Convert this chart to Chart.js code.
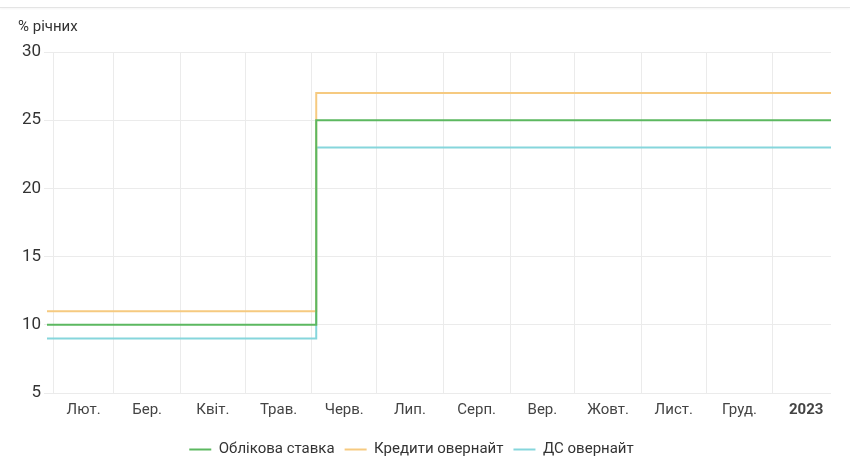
<!DOCTYPE html>
<html lang="uk">
<head>
<meta charset="utf-8">
<script src="https://cdn.jsdelivr.net/npm/chart.js@4/dist/chart.umd.min.js"></script>
<style>
    html, body { margin: 0; padding: 0; background: #fff; }
    #wrap { position: relative; width: 850px; height: 474px; }
    #topLine { position: absolute; left: 0; top: 7px; width: 850px; height: 1px; background: #e4e4e4; box-shadow: 0 1px 2px rgba(0,0,0,0.06); }
</style>
</head>
<body>
<div id="wrap">
    <div id="topLine"></div>
    <canvas id="ratesChart"></canvas>
</div>
<script>
// dates where the series change (first point, policy change, last point)
const changeDates = ['2022-01-29', '2022-06-03', '2023-01-28'];
const discountRate = [10, 25, 25];
const overnightLoans = [11, 27, 27];
const overnightDeposits = [9, 23, 23];

const monthStarts = ['2022-02-01', '2022-03-01', '2022-04-01', '2022-05-01', '2022-06-01', '2022-07-01',
    '2022-08-01', '2022-09-01', '2022-10-01', '2022-11-01', '2022-12-01', '2023-01-01', '2023-02-01'];
const monthLabels = ['Лют.', 'Бер.', 'Квіт.', 'Трав.', 'Черв.', 'Лип.', 'Серп.', 'Вер.', 'Жовт.', 'Лист.', 'Груд.', '2023'];

const yTicks = [5, 10, 15, 20, 25, 30];

function toDay(s) {
    return (Date.parse(s + 'T00:00:00Z') - Date.UTC(2022, 0, 1)) / 86400000;
}

const startDays = monthStarts.map(toDay);
const gridTicks = startDays.slice(0, monthLabels.length);
const labelTicks = monthLabels.map((_, i) => (startDays[i] + startDays[i + 1]) / 2);
const labelMap = {};
labelTicks.forEach((v, i) => { labelMap[v] = monthLabels[i]; });

function points(values) {
    return changeDates.map((d, i) => ({ x: toDay(d), y: values[i] }));
}

const font = 'Roboto, "Liberation Sans", sans-serif';

// legend sits a bit left of centre in the original
const legendShift = {
    id: 'legendShift',
    afterLayout(chart) {
        chart.legend.left -= 13;
        chart.legend.right -= 13;
    }
};

new Chart(document.getElementById('ratesChart'), {
    type: 'line',
    plugins: [legendShift],
    data: {
        datasets: [
            {
                label: 'Облікова ставка',
                data: points(discountRate),
                borderColor: '#5cb860',
                backgroundColor: '#5cb860'
            },
            {
                label: 'Кредити овернайт',
                data: points(overnightLoans),
                borderColor: '#f6ca80',
                backgroundColor: '#f6ca80'
            },
            {
                label: 'ДС овернайт',
                data: points(overnightDeposits),
                borderColor: '#86d6dc',
                backgroundColor: '#86d6dc'
            }
        ]
    },
    options: {
        responsive: true,
        maintainAspectRatio: false,
        animation: false,
        datasets: {
            line: {
                stepped: true,
                borderWidth: 2,
                pointRadius: 0,
                pointHoverRadius: 0,
                pointStyle: 'line',
                fill: false
            }
        },
        layout: {
            padding: { left: 18, right: 19, top: 18, bottom: 7 }
        },
        scales: {
            x: {
                type: 'linear',
                min: toDay(changeDates[0]),
                max: toDay(changeDates[changeDates.length - 1]),
                afterBuildTicks: function (scale) {
                    scale.ticks = gridTicks.concat(labelTicks).sort((a, b) => a - b).map(v => ({ value: v }));
                },
                afterFit: function (scale) {
                    scale.height = 39;
                },
                border: { display: false },
                grid: {
                    drawTicks: false,
                    color: function (ctx) {
                        return ctx.tick && labelMap[ctx.tick.value] === undefined ? '#ebebeb' : 'rgba(0,0,0,0)';
                    }
                },
                ticks: {
                    autoSkip: false,
                    maxRotation: 0,
                    padding: 8,
                    color: '#444',
                    font: function (ctx) {
                        const bold = ctx.tick && labelMap[ctx.tick.value] === '2023';
                        return { family: font, size: 15, weight: bold ? 'bold' : 'normal' };
                    },
                    callback: function (value) {
                        return labelMap[value] || '';
                    }
                }
            },
            y: {
                min: yTicks[0],
                max: yTicks[yTicks.length - 1],
                afterBuildTicks: function (scale) {
                    scale.ticks = yTicks.map(v => ({ value: v }));
                },
                afterFit: function (scale) {
                    scale.width = 29;
                },
                border: { display: false },
                grid: {
                    color: '#ebebeb',
                    tickLength: 3
                },
                ticks: {
                    padding: 3,
                    color: '#333',
                    font: { family: font, size: 17 }
                }
            }
        },
        plugins: {
            title: {
                display: true,
                text: '% річних',
                align: 'start',
                color: '#333',
                font: { family: font, size: 15, weight: 'normal' },
                padding: { top: 0, bottom: 16 }
            },
            legend: {
                position: 'bottom',
                labels: {
                    usePointStyle: true,
                    pointStyleWidth: 22,
                    boxHeight: 15,
                    padding: 10,
                    color: '#333',
                    font: { family: font, size: 15 }
                }
            },
            tooltip: { enabled: false }
        }
    }
});
</script>
</body>
</html>
